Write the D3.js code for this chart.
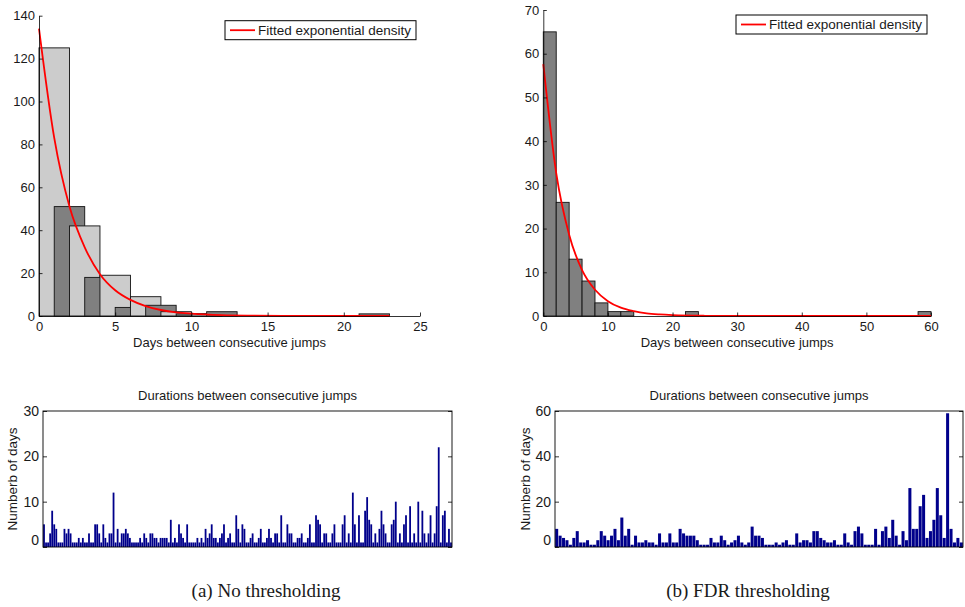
<!DOCTYPE html>
<html><head><meta charset="utf-8">
<script src="https://cdn.jsdelivr.net/npm/d3@7"></script>
<style>
body{margin:0;background:#fff}
svg{display:block}
text{font-family:"Liberation Sans",Arial,sans-serif;fill:#1a1a1a}
</style>
</head><body>
<svg id="c" width="965" height="607"></svg>
<script>
// ---------- DATA ----------
// (a) histogram: two interleaved bin sets (bin start, count), width 2
const histAStarts = [0, 1, 2, 3, 4, 5, 6, 7, 8, 9, 10, 11, 21];
const histACounts = [125, 51, 42, 18, 19, 4, 9, 5, 2, 1, 1, 2, 1];
const histAShade  = ["light","dark","light","dark","light","dark","light","dark","light","dark","light","dark","dark"];
const histAXTicks = [0, 5, 10, 15, 20, 25];
const histAYTicks = [0, 20, 40, 60, 80, 100, 120, 140];
// fitted exponential density
const fitAX = [0, 1, 2, 3, 4, 5, 6, 7, 8, 9, 10, 12, 14, 16, 18, 20, 23];
const fitAY = [134, 83, 51, 32, 19.5, 12, 7.5, 4.6, 2.8, 1.7, 1.1, 0.4, 0.15, 0.05, 0.02, 0.01, 0];

// (b) histogram (bin start, count), width 2
const histBStarts = [0, 2, 4, 6, 8, 10, 12, 22, 58];
const histBCounts = [65, 26, 13, 8, 3, 1, 1, 1, 1];
const histBXTicks = [0, 10, 20, 30, 40, 50, 60];
const histBYTicks = [0, 10, 20, 30, 40, 50, 60, 70];
const fitBX = [0, 2, 4, 6, 8, 10, 12, 14, 16, 18, 20, 25, 30, 40, 50, 60];
const fitBY = [57.6, 32.7, 18.6, 10.5, 6, 3.4, 1.9, 1.1, 0.6, 0.35, 0.2, 0.05, 0.01, 0, 0, 0];

// durations between consecutive jumps
const durA = [
 5,1,1,3,8,5,4,1,1,1, 4,3,4,3,1,1,1,2,1,2, 1,1,3,1,1,5,5,3,1,5, 2,1,3,3,12,1,4,1,3,3,
 4,3,2,1,1,1,1,2,1,3, 2,1,3,3,2,2,1,2,2,2, 2,1,6,1,2,1,5,3,2,1, 5,1,1,1,1,2,1,2,1,4,
 2,3,5,2,2,1,2,3,5,1, 2,3,1,1,7,4,1,5,4,1, 1,2,3,1,1,2,4,1,1,2, 4,2,1,3,3,1,7,1,1,5,
 3,3,1,1,2,2,3,1,1,2, 5,1,1,7,6,5,1,3,3,1, 1,3,5,1,1,1,5,7,1,3, 1,12,5,1,7,1,1,8,11,6,
 5,1,3,1,4,8,5,3,1,1, 5,6,10,1,3,1,5,7,1,9, 1,3,1,10,1,8,3,1,3,7, 1,3,9,22,1,7,8,1,4,1];
const durB = [
 8,5,4,3,1,4,7,2,2,3, 1,1,3,7,5,3,5,8,3,13, 5,8,1,5,2,2,3,2,2,1, 6,2,2,6,2,2,8,6,5,5,
 5,3,1,1,1,4,2,2,5,3, 1,2,3,5,2,1,2,9,5,5, 4,1,1,1,2,1,2,3,1,1, 6,2,3,3,2,7,7,4,3,2,
 2,3,1,1,6,2,1,7,9,6, 1,1,1,8,1,7,9,4,12,5, 1,7,3,26,8,8,18,23,4,7, 12,26,14,4,59,8,2,4,2];
const durAYTicks = [0, 10, 20, 30];
const durBYTicks = [0, 20, 40, 60];

const legendLabel = "Fitted exponential density";
const xLabel = "Days between consecutive jumps";
const durTitle = "Durations between consecutive jumps";
const durYLabel = "Numberb of days";
const captions = ["(a) No thresholding", "(b) FDR thresholding"];

// ---------- DRAW ----------
const svg = d3.select("#c");
const FS = "13px";
const shadeColor = {light: "#cccccc", dark: "#808080"};

function styleAxis(g) {
  g.attr("font-family", null).attr("font-size", null);
  g.selectAll("text").style("font-size", FS).attr("fill", "#1a1a1a");
  g.selectAll("line,path").attr("stroke", "#000").attr("stroke-width", 0.8);
}

function drawHist(o) {
  const x = d3.scaleLinear().domain(o.xDom).range([o.x0, o.x1]);
  const y = d3.scaleLinear().domain(o.yDom).range([o.y0, o.y1]);
  const g = svg.append("g");
  g.selectAll("rect.bar").data(o.starts).join("rect")
    .attr("x", d => x(d)).attr("width", d => x(d + 2) - x(d))
    .attr("y", (d, i) => y(o.counts[i]))
    .attr("height", (d, i) => y(0) - y(o.counts[i]))
    .attr("fill", (d, i) => shadeColor[o.shade[i]])
    .attr("stroke", "#111").attr("stroke-width", 0.9);
  const line = d3.line().x(d => x(d[0])).y(d => y(d[1])).curve(d3.curveMonotoneX);
  g.append("path").datum(o.fx.map((v, i) => [v, o.fy[i]]))
    .attr("d", line).attr("fill", "none").attr("stroke", "#ff0000").attr("stroke-width", 1.8);
  const ax = g.append("g").attr("transform", `translate(0,${o.y0})`)
    .call(d3.axisBottom(x).tickValues(o.xTicks).tickSizeInner(-3.5).tickSizeOuter(0).tickPadding(0));
  styleAxis(ax);
  ax.selectAll("text").attr("y", 15).attr("dy", null);
  const ay = g.append("g").attr("transform", `translate(${o.x0},0)`)
    .call(d3.axisLeft(y).tickValues(o.yTicks).tickSizeInner(-3.5).tickSizeOuter(0).tickPadding(4));
  styleAxis(ay);
  g.append("text").attr("x", (o.x0 + o.x1) / 2).attr("y", o.y0 + 30.5)
    .attr("text-anchor", "middle").style("font-size", FS).text(xLabel);
  // legend
  const lw = 191, lh = 19;
  const lx = o.x1 - 4 - lw, ly = o.y1 + 5;
  g.append("rect").attr("x", lx).attr("y", ly).attr("width", lw).attr("height", lh)
    .attr("fill", "#fff").attr("stroke", "#000").attr("stroke-width", 1);
  g.append("line").attr("x1", lx + 5).attr("x2", lx + 30).attr("y1", ly + lh / 2).attr("y2", ly + lh / 2)
    .attr("stroke", "#ff0000").attr("stroke-width", 1.8);
  g.append("text").attr("x", lx + 33).attr("y", ly + lh / 2).attr("dy", "0.35em")
    .style("font-size", "13.5px").text(legendLabel);
}

function drawDur(o) {
  const x = d3.scaleBand().domain(d3.range(o.data.length)).range([o.x0, o.x1])
    .paddingInner(0.12).paddingOuter(0.05);
  const y = d3.scaleLinear().domain(o.yDom).range([o.y0, o.y1]);
  const g = svg.append("g");
  g.selectAll("rect.b").data(o.data).join("rect")
    .attr("x", (d, i) => x(i)).attr("width", x.bandwidth())
    .attr("y", d => y(d)).attr("height", d => y(0) - y(d))
    .attr("fill", "#00008b");
  g.append("rect").attr("x", o.x0).attr("y", o.y1).attr("width", o.x1 - o.x0).attr("height", o.y0 - o.y1)
    .attr("fill", "none").attr("stroke", "#000").attr("stroke-width", 0.9);
  const ay = g.append("g").attr("transform", `translate(${o.x0},0)`)
    .call(d3.axisLeft(y).tickValues(o.yTicks).tickSizeInner(-4).tickSizeOuter(0).tickPadding(4));
  styleAxis(ay);
  ay.select(".domain").remove();
  ay.selectAll(".tick text").filter(d => d === 0).attr("dy", "-0.2em");
  ay.selectAll("text").style("font-size", "14px");
  const ar = g.append("g").attr("transform", `translate(${o.x1},0)`)
    .call(d3.axisRight(y).tickValues(o.yTicks).tickSizeInner(-4).tickSizeOuter(0).tickFormat(""));
  styleAxis(ar);
  ar.select(".domain").remove();
  g.append("text").attr("x", (o.x0 + o.x1) / 2).attr("y", o.y1 - 11)
    .attr("text-anchor", "middle").style("font-size", FS).text(durTitle);
  g.append("text").attr("transform", `translate(${o.lx},${(o.y0 + o.y1) / 2}) rotate(-90)`)
    .attr("text-anchor", "middle").attr("dy", "0.35em").style("font-size", "13.5px").text(durYLabel);
}

drawHist({xDom: [0, 25], yDom: [0, 140], x0: 39, x1: 420, y0: 316, y1: 15.7,
  starts: histAStarts, counts: histACounts, shade: histAShade,
  fx: fitAX, fy: fitAY, xTicks: histAXTicks, yTicks: histAYTicks});
drawHist({xDom: [0, 60], yDom: [0, 70], x0: 543.3, x1: 931, y0: 316, y1: 10,
  starts: histBStarts, counts: histBCounts, shade: histBStarts.map(() => "dark"),
  fx: fitBX, fy: fitBY, xTicks: histBXTicks, yTicks: histBYTicks});

drawDur({data: durA, yDom: [0, 30], yTicks: durAYTicks, x0: 43, x1: 452, y0: 547, y1: 411, lx: 12.5});
drawDur({data: durB, yDom: [0, 60], yTicks: durBYTicks, x0: 555, x1: 963, y0: 547, y1: 411, lx: 525});

captions.forEach((c, i) => {
  svg.append("text").attr("x", i === 0 ? 266 : 748).attr("y", 597)
    .attr("text-anchor", "middle")
    .style("font-family", "'Liberation Serif','Times New Roman',serif")
    .style("font-size", "19px").text(c);
});
</script>
</body></html>
